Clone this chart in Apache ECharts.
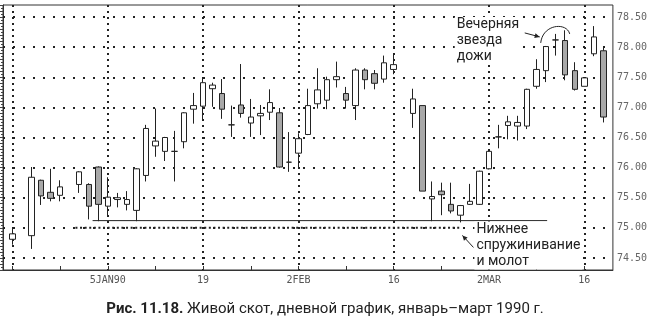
<!DOCTYPE html>
<html><head><meta charset="utf-8">
<script src="https://cdn.jsdelivr.net/npm/echarts@6/dist/echarts.min.js"></script>
<style>html,body{margin:0;padding:0;background:#fff}#c{width:650px;height:324px}</style>
</head><body><div id="c"></div><script>
// Trading-day slots (weekdays); holidays are kept as empty slots
const dates = [
 '1989-12-21','1989-12-22','1989-12-25','1989-12-26','1989-12-27','1989-12-28','1989-12-29',
 '1990-01-01','1990-01-02','1990-01-03','1990-01-04','1990-01-05',
 '1990-01-08','1990-01-09','1990-01-10','1990-01-11','1990-01-12',
 '1990-01-15','1990-01-16','1990-01-17','1990-01-18','1990-01-19',
 '1990-01-22','1990-01-23','1990-01-24','1990-01-25','1990-01-26',
 '1990-01-29','1990-01-30','1990-01-31','1990-02-01','1990-02-02',
 '1990-02-05','1990-02-06','1990-02-07','1990-02-08','1990-02-09',
 '1990-02-12','1990-02-13','1990-02-14','1990-02-15','1990-02-16',
 '1990-02-19','1990-02-20','1990-02-21','1990-02-22','1990-02-23',
 '1990-02-26','1990-02-27','1990-02-28','1990-03-01','1990-03-02',
 '1990-03-05','1990-03-06','1990-03-07','1990-03-08','1990-03-09',
 '1990-03-12','1990-03-13','1990-03-14','1990-03-15','1990-03-16',
 '1990-03-19','1990-03-20','1990-03-21'
];
const openP = [
 null,74.81,null,74.87,75.79,75.59,75.54,
 null,75.72,75.72,76.01,75.36,
 75.47,75.39,75.29,75.87,76.36,
 76.27,76.27,76.43,76.97,77.02,
 77.31,77.23,76.71,77.04,76.74,
 76.86,76.92,76.91,76.09,76.24,
 76.55,77.06,77.12,77.46,77.23,
 77.03,77.62,77.56,77.47,77.63,
 null,76.90,77.03,75.48,75.61,
 75.39,75.21,75.39,75.39,75.98,
 76.51,76.70,76.69,76.69,77.35,
 77.61,78.12,78.11,77.61,77.35,
 77.89,77.94,null
];
const closeP = [
 null,74.90,null,75.84,75.53,75.49,75.68,
 null,75.93,75.36,75.39,75.51,
 75.50,75.47,75.98,76.65,76.44,
 76.50,76.27,76.91,77.03,77.41,
 77.37,76.97,76.71,76.90,76.84,
 76.90,77.08,76.01,76.09,76.48,
 77.03,77.29,77.46,77.51,77.12,
 77.62,77.46,77.40,77.74,77.71,
 null,77.14,75.61,75.52,75.55,
 75.28,75.37,75.44,75.94,76.27,
 76.51,76.76,76.75,77.30,77.63,
 78.01,78.12,77.54,77.30,77.49,
 78.17,76.84,null
];
const lowP = [
 null,74.72,null,74.65,75.38,75.44,75.44,
 null,75.58,75.14,75.11,75.18,
 75.34,75.29,75.11,75.77,76.18,
 76.11,75.77,76.32,76.73,76.80,
 77.01,76.81,76.51,76.83,76.51,
 76.54,76.79,76.00,75.93,75.99,
 76.54,76.98,76.97,77.33,76.98,
 76.79,77.30,77.30,77.41,77.55,
 null,76.66,75.61,75.11,75.21,
 75.24,75.09,75.38,75.38,75.97,
 76.32,76.47,76.45,76.64,77.31,
 77.42,77.86,77.45,77.28,77.35,
 77.85,76.75,null
];
const highP = [
 null,74.98,null,76.01,75.80,75.98,75.79,
 null,75.94,75.74,76.02,75.84,
 75.58,75.61,75.99,76.71,76.98,
 76.51,76.61,76.92,77.24,77.50,
 77.41,77.47,77.03,77.72,77.14,
 77.04,77.30,76.99,76.59,76.57,
 77.31,77.65,77.51,77.76,77.34,
 77.65,77.65,77.62,77.86,77.88,
 null,77.31,77.03,75.77,75.75,
 75.75,75.38,75.73,75.95,76.28,
 76.71,76.86,76.86,77.31,77.80,
 78.02,78.22,78.28,77.75,77.50,
 78.35,78.00,null
];
const xTickLabels = {
 '1990-01-05':'5JAN90','1990-01-19':'19','1990-02-02':'2FEB',
 '1990-02-16':'16','1990-03-02':'2MAR','1990-03-16':'16'
};
const yTickValues = [74.5,75.0,75.5,76.0,76.5,77.0,77.5,78.0,78.5];
// annotation lines: [slot index, price]
const springLine = [[9.4,75.12],[57.1,75.12]];
const supportDots = [[7.6,75.0],[48.0,75.0]];
const dojiStar = [58, 78.22];   // Mar 13 doji high
const hammerLow = [48, 75.09];  // Feb 27 low

const chart = echarts.init(document.getElementById('c'));
const candles = dates.map((d,i)=> openP[i]==null ? '-' : [openP[i],closeP[i],lowP[i],highP[i]]);
const ink = '#222';
const mono = 'DejaVu Sans Mono';

chart.setOption({
  animation:false,
  title:{
    left:'center', top:297,
    text:'{b|Рис. 11.18.} Живой скот, дневной график, январь–март 1990 г.',
    textStyle:{fontFamily:'Roboto', fontSize:15, fontWeight:'normal', color:ink,
      rich:{b:{fontFamily:'Roboto', fontSize:15, fontWeight:'bold', color:ink}}}
  },
  grid:{left:3, right:34, top:5, bottom:54, show:true, borderColor:'#333', borderWidth:1},
  xAxis:[{
    type:'category', data:dates, boundaryGap:false,
    axisLine:{lineStyle:{color:'#333'}},
    axisTick:{inside:true, length:4, interval:(i)=>i%5===1, lineStyle:{color:'#333'}},
    axisLabel:{interval:(i)=>xTickLabels[dates[i]]!==undefined, formatter:(v)=>xTickLabels[v]||'',
      color:'#555', fontFamily:mono, fontSize:10, margin:5},
    splitLine:{show:true, interval:(i)=>i%10===1, lineStyle:{type:[2,4], color:'#222', width:2}}
  },{
    type:'value', min:0, max:dates.length-1, show:false
  }],
  yAxis:{
    type:'value', position:'right', min:74.3, max:78.7, interval:0.1,
    axisLine:{show:true, lineStyle:{color:'#333'}},
    axisTick:{show:true, inside:true, length:3, lineStyle:{color:'#444'}},
    minorTick:{show:true, splitNumber:2, length:2, lineStyle:{color:'#444'}},
    splitLine:{show:false},
    axisLabel:{color:'#666', fontFamily:mono, fontSize:10, margin:4,
      formatter:(v)=> yTickValues.some(t=>Math.abs(t-v)<1e-6) ? v.toFixed(2) : ''}
  },
  series:[{
    type:'candlestick', data:candles, barWidth:6,
    itemStyle:{color:'#fff', color0:'#a8a8a8', borderColor:ink, borderColor0:ink, borderColorDoji:ink, borderWidth:1},
    markLine:{silent:true, symbol:'none', z:1, animation:false, label:{show:false},
      lineStyle:{type:[2,8], color:'#222', width:2},
      data: yTickValues.map(v=>({yAxis:v}))}
  },{
    type:'line', xAxisIndex:1, yAxisIndex:0, data:springLine, symbol:'none', silent:true,
    lineStyle:{color:ink, width:1}, z:3
  },{
    type:'line', xAxisIndex:1, yAxisIndex:0, data:supportDots, symbol:'none', silent:true,
    lineStyle:{color:ink, width:2, type:[2,2.6]}, z:3
  }]
});

function px(p){ return chart.convertToPixel({seriesIndex:1}, p); }
function arrow(x0,y0,x1,y1){
  const a=Math.atan2(y1-y0,x1-x0), L=5, W=2.5, c=Math.cos(a), s=Math.sin(a);
  return [
    {type:'line', shape:{x1:x0,y1:y0,x2:x1,y2:y1}, style:{stroke:ink,lineWidth:1}, z:20},
    {type:'polygon', shape:{points:[[x1,y1],[x1-L*c+W*s, y1-L*s-W*c],[x1-L*c-W*s, y1-L*s+W*c]]}, style:{fill:ink}, z:20}
  ];
}
const d = px(dojiStar), h = px(hammerLow);
const txtStyle = {font:'14px Roboto', fill:ink, lineHeight:16, verticalAlign:'top', align:'left', backgroundColor:'#fff', padding:[0,2]};
chart.setOption({graphic:[
  {type:'text', x:d[0]-101, y:d[1]-17, style:Object.assign({text:'Вечерняя\nзвезда\nдожи'}, txtStyle), z:15},
  ...arrow(d[0]-31, d[1]-1, d[0]-16, d[1]+3),
  {type:'bezierCurve', shape:{x1:d[0]-15, y1:d[1]+9, cpx1:d[0]-13, cpy1:d[1]-10, cpx2:d[0]+11, cpy2:d[1]-12, x2:d[0]+14, y2:d[1]}, style:{stroke:ink, lineWidth:1, fill:null}, z:20},
  {type:'text', x:h[0]+14, y:h[1]-1, style:Object.assign({text:'Нижнее\nспружинивание\nи молот'}, txtStyle), z:15},
  ...arrow(h[0]+13, h[1]+25, h[0]+2, h[1]+13)
]});
</script></body></html>
